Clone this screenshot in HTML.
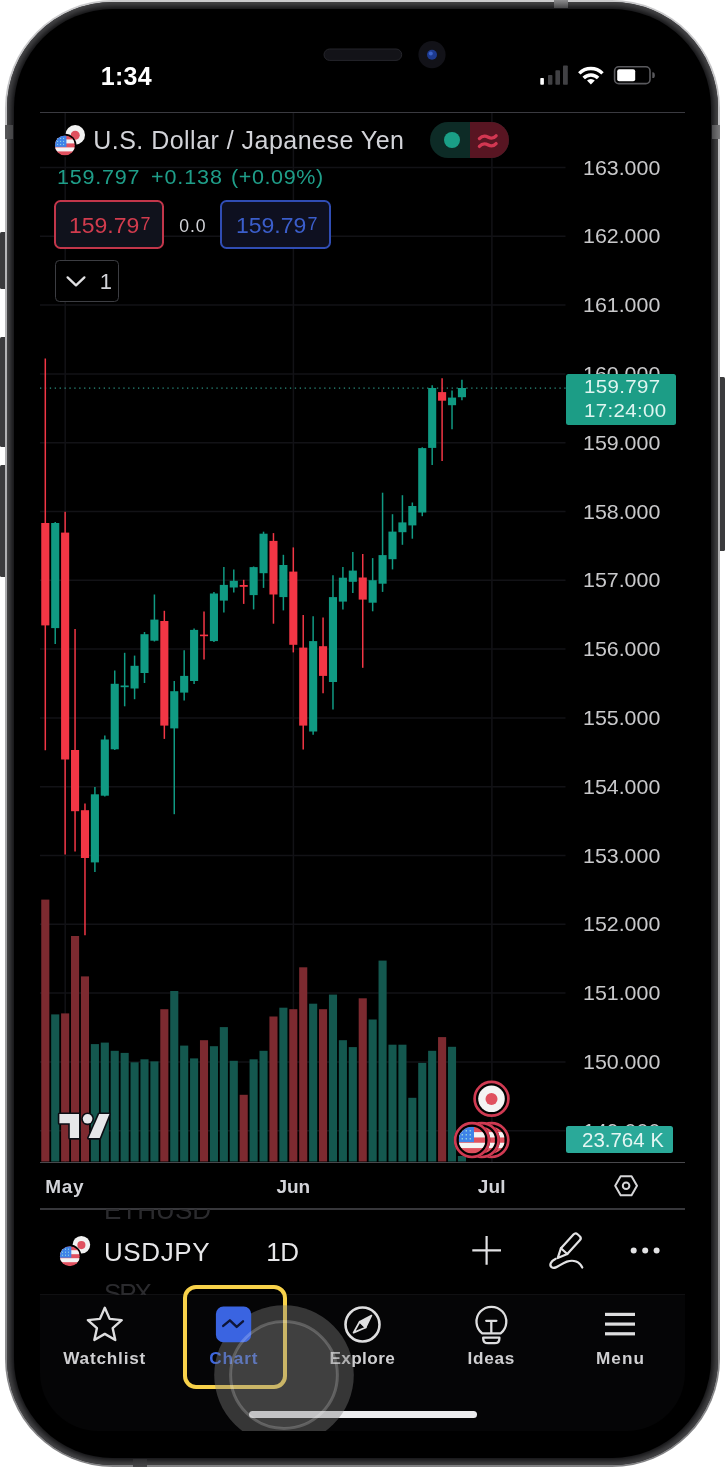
<!DOCTYPE html>
<html lang="en"><head><meta charset="utf-8"><title>USDJPY chart</title>
<style>
html,body{margin:0;padding:0;background:#fff;}
body{width:725px;height:1467px;overflow:hidden;position:relative;font-family:"Liberation Sans",sans-serif;}
.abs{position:absolute;}
.t{position:absolute;white-space:nowrap;line-height:1;}
.btn{position:absolute;background:#3b3b3d;border-radius:1.5px;}
.frame{position:absolute;left:4.9px;top:0;width:715.2px;height:1467px;border-radius:108px;background:linear-gradient(180deg,#cacacc 0%,#b6b6b8 18%,#a6a6a8 60%,#8e8e90 90%,#808082 100%);}
.bezel{position:absolute;left:2px;top:1.9px;right:2px;bottom:2px;border-radius:106px;background:#0e0e10;box-shadow:inset 0 0 6px 4px #4a4a4c;}
.glass{position:absolute;left:9.1px;top:8.8px;right:9.2px;bottom:8.9px;border-radius:99px;background:#000;}
.hl{position:absolute;background:#26262b;height:1.6px;}
.box{position:absolute;box-sizing:border-box;}
.clip{position:absolute;overflow:hidden;}
</style></head><body>
<div class="btn" style="left:0;top:232px;width:8px;height:57.2px;"></div>
<div class="btn" style="left:0;top:336.5px;width:8px;height:110.5px;"></div>
<div class="btn" style="left:0;top:465px;width:8px;height:112px;"></div>
<div class="btn" style="left:716px;top:376.5px;width:9px;height:174px;"></div>
<div class="frame"><div class="bezel"></div><div class="glass"></div></div>
<div class="abs" style="left:5px;top:125px;width:8.2px;height:14px;background:linear-gradient(90deg,#58585a,#444446);"></div>
<div class="abs" style="left:711.8px;top:125px;width:8.2px;height:13.8px;background:linear-gradient(90deg,#4c4c4e,#7c7c7e);"></div>
<div class="abs" style="left:554px;top:0;width:14px;height:8px;background:linear-gradient(180deg,#8c8c8e,#48484a);"></div>
<div class="abs" style="left:133px;top:1458.8px;width:14px;height:8.2px;background:linear-gradient(180deg,#2c2c2e,#48484a);"></div>
<div class="abs" id="nav" style="left:40px;top:1293.8px;width:645px;height:136.6px;background:#050506;border-top:1.2px solid #101012;border-radius:0 0 58px 58px;"></div>

<svg class="abs" style="left:0;top:0" width="725" height="1467" viewBox="0 0 725 1467">
<rect x="324" y="49" width="77.7" height="11.4" rx="5.7" fill="#131318" stroke="#25252b" stroke-width="1"/>
<circle cx="432" cy="54.7" r="13.6" fill="#121218"/><circle cx="432" cy="54.7" r="5" fill="#1d3a8f"/><circle cx="430.8" cy="53.4" r="2" fill="#3c63c8"/>
<rect x="540.3" y="78" width="3.6" height="6.8" rx="0.8" fill="#fff"/><rect x="548" y="75" width="4.4" height="9.8" rx="0.8" fill="#414144"/><rect x="555.4" y="70.3" width="4.6" height="14.5" rx="0.8" fill="#414144"/><rect x="563" y="65.5" width="4.8" height="19.3" rx="0.8" fill="#414144"/>
<g fill="none" stroke="#fff" stroke-width="3.4"><path d="M579.3,73.4A16.2,16.2 0 0 1 602.5,73.4"/><path d="M583.7,78.0A10,10 0 0 1 598.1,78.0"/></g><path d="M590.9,84.6L587.0,80.5A5.5,5.5 0 0 1 594.8,80.5Z" fill="#fff"/>
<rect x="614.6" y="66.8" width="35.4" height="16.8" rx="4.2" fill="none" stroke="#5a5a5e" stroke-width="1.6"/><rect x="617.2" y="69.2" width="18" height="12" rx="2" fill="#fff"/><path d="M652.3,72.3H652.8A2,2.9 0 0 1 652.8,78.1H652.3Z" fill="#5a5a5e"/>
</svg>
<div class="t" style="left:100.70px;top:63.84px;font-size:25px;color:#fff;letter-spacing:0.33px;font-weight:700;">1:34</div>
<div class="hl" style="left:40px;top:111.9px;width:645px;height:1.5px;background:#3a3a40;"></div>
<svg class="abs" style="left:0;top:0" width="725" height="1467" viewBox="0 0 725 1467">
<g stroke="#121216" stroke-width="1.5">
<line x1="40" x2="565.5" y1="167.5" y2="167.5"/>
<line x1="40" x2="565.5" y1="236.3" y2="236.3"/>
<line x1="40" x2="565.5" y1="305.1" y2="305.1"/>
<line x1="40" x2="565.5" y1="373.9" y2="373.9"/>
<line x1="40" x2="565.5" y1="442.7" y2="442.7"/>
<line x1="40" x2="565.5" y1="511.5" y2="511.5"/>
<line x1="40" x2="565.5" y1="580.3" y2="580.3"/>
<line x1="40" x2="565.5" y1="649.1" y2="649.1"/>
<line x1="40" x2="565.5" y1="717.9" y2="717.9"/>
<line x1="40" x2="565.5" y1="786.7" y2="786.7"/>
<line x1="40" x2="565.5" y1="855.5" y2="855.5"/>
<line x1="40" x2="565.5" y1="924.3" y2="924.3"/>
<line x1="40" x2="565.5" y1="993.1" y2="993.1"/>
<line x1="40" x2="565.5" y1="1061.9" y2="1061.9"/>
<line x1="40" x2="565.5" y1="1130.7" y2="1130.7"/>
<line x1="65.2" x2="65.2" y1="113" y2="1162"/>
<line x1="293.4" x2="293.4" y1="113" y2="1162"/>
<line x1="491.9" x2="491.9" y1="113" y2="1162"/>
</g>
<rect x="41.25" y="899.6" width="8.1" height="261.9" fill="#7d2a30"/>
<rect x="51.17" y="1014.4" width="8.1" height="147.1" fill="#14584f"/>
<rect x="61.09" y="1013.4" width="8.1" height="148.1" fill="#7d2a30"/>
<rect x="71.01" y="936.0" width="8.1" height="225.5" fill="#7d2a30"/>
<rect x="80.93" y="976.4" width="8.1" height="185.1" fill="#7d2a30"/>
<rect x="90.85" y="1044.1" width="8.1" height="117.4" fill="#14584f"/>
<rect x="100.77" y="1042.6" width="8.1" height="118.9" fill="#14584f"/>
<rect x="110.69" y="1050.8" width="8.1" height="110.7" fill="#14584f"/>
<rect x="120.61" y="1052.9" width="8.1" height="108.6" fill="#14584f"/>
<rect x="130.53" y="1062.3" width="8.1" height="99.2" fill="#14584f"/>
<rect x="140.45" y="1059.3" width="8.1" height="102.2" fill="#14584f"/>
<rect x="150.37" y="1061.4" width="8.1" height="100.1" fill="#14584f"/>
<rect x="160.29" y="1009.2" width="8.1" height="152.3" fill="#7d2a30"/>
<rect x="170.21" y="991.0" width="8.1" height="170.5" fill="#14584f"/>
<rect x="180.13" y="1045.6" width="8.1" height="115.9" fill="#14584f"/>
<rect x="190.05" y="1058.4" width="8.1" height="103.1" fill="#14584f"/>
<rect x="199.97" y="1040.2" width="8.1" height="121.3" fill="#7d2a30"/>
<rect x="209.89" y="1046.2" width="8.1" height="115.3" fill="#14584f"/>
<rect x="219.81" y="1027.1" width="8.1" height="134.4" fill="#14584f"/>
<rect x="229.73" y="1060.8" width="8.1" height="100.7" fill="#14584f"/>
<rect x="239.65" y="1094.8" width="8.1" height="66.7" fill="#7d2a30"/>
<rect x="249.57" y="1059.3" width="8.1" height="102.2" fill="#14584f"/>
<rect x="259.49" y="1050.8" width="8.1" height="110.7" fill="#14584f"/>
<rect x="269.41" y="1016.5" width="8.1" height="145.0" fill="#7d2a30"/>
<rect x="279.33" y="1007.7" width="8.1" height="153.8" fill="#14584f"/>
<rect x="289.25" y="1009.2" width="8.1" height="152.3" fill="#7d2a30"/>
<rect x="299.17" y="967.3" width="8.1" height="194.2" fill="#7d2a30"/>
<rect x="309.09" y="1003.7" width="8.1" height="157.8" fill="#14584f"/>
<rect x="319.01" y="1009.2" width="8.1" height="152.3" fill="#7d2a30"/>
<rect x="328.93" y="994.6" width="8.1" height="166.9" fill="#14584f"/>
<rect x="338.85" y="1040.2" width="8.1" height="121.3" fill="#14584f"/>
<rect x="348.77" y="1047.1" width="8.1" height="114.4" fill="#14584f"/>
<rect x="358.69" y="998.3" width="8.1" height="163.2" fill="#7d2a30"/>
<rect x="368.61" y="1019.5" width="8.1" height="142.0" fill="#14584f"/>
<rect x="378.53" y="960.6" width="8.1" height="200.9" fill="#14584f"/>
<rect x="388.45" y="1044.7" width="8.1" height="116.8" fill="#14584f"/>
<rect x="398.37" y="1044.7" width="8.1" height="116.8" fill="#14584f"/>
<rect x="408.29" y="1097.8" width="8.1" height="63.7" fill="#14584f"/>
<rect x="418.21" y="1062.9" width="8.1" height="98.6" fill="#14584f"/>
<rect x="428.13" y="1050.8" width="8.1" height="110.7" fill="#14584f"/>
<rect x="438.05" y="1037.1" width="8.1" height="124.4" fill="#7d2a30"/>
<rect x="447.97" y="1046.8" width="8.1" height="114.7" fill="#14584f"/>
<rect x="457.89" y="1156.0" width="8.1" height="5.5" fill="#14584f"/>
<line x1="40" x2="566" y1="388" y2="388" stroke="#2b8f7f" stroke-width="1.25" stroke-dasharray="1.3 3.6"/>
<line x1="45.30" x2="45.30" y1="358.4" y2="750.3" stroke="#f23645" stroke-width="1.5"/>
<rect x="41.25" y="523" width="8.1" height="102.4" fill="#f23645"/>
<line x1="55.22" x2="55.22" y1="522" y2="644" stroke="#109a83" stroke-width="1.5"/>
<rect x="51.17" y="523" width="8.1" height="105.1" fill="#109a83"/>
<line x1="65.14" x2="65.14" y1="511.8" y2="854.6" stroke="#f23645" stroke-width="1.5"/>
<rect x="61.09" y="532.6" width="8.1" height="226.9" fill="#f23645"/>
<line x1="75.06" x2="75.06" y1="629" y2="851.5" stroke="#f23645" stroke-width="1.5"/>
<rect x="71.01" y="750" width="8.1" height="61.2" fill="#f23645"/>
<line x1="84.98" x2="84.98" y1="803.5" y2="935.2" stroke="#f23645" stroke-width="1.5"/>
<rect x="80.93" y="810.2" width="8.1" height="47.8" fill="#f23645"/>
<line x1="94.90" x2="94.90" y1="787" y2="872" stroke="#109a83" stroke-width="1.5"/>
<rect x="90.85" y="794.3" width="8.1" height="68.1" fill="#109a83"/>
<line x1="104.82" x2="104.82" y1="735.4" y2="796.5" stroke="#109a83" stroke-width="1.5"/>
<rect x="100.77" y="739.5" width="8.1" height="56.2" fill="#109a83"/>
<line x1="114.74" x2="114.74" y1="670.5" y2="750" stroke="#109a83" stroke-width="1.5"/>
<rect x="110.69" y="683.8" width="8.1" height="65.5" fill="#109a83"/>
<line x1="124.66" x2="124.66" y1="652.8" y2="706.3" stroke="#109a83" stroke-width="1.5"/>
<rect x="120.61" y="685.5" width="8.1" height="1.7" fill="#109a83"/>
<line x1="134.58" x2="134.58" y1="655.6" y2="699.2" stroke="#109a83" stroke-width="1.5"/>
<rect x="130.53" y="665.8" width="8.1" height="22.7" fill="#109a83"/>
<line x1="144.50" x2="144.50" y1="632" y2="683" stroke="#109a83" stroke-width="1.5"/>
<rect x="140.45" y="634.2" width="8.1" height="38.8" fill="#109a83"/>
<line x1="154.42" x2="154.42" y1="594.5" y2="641.5" stroke="#109a83" stroke-width="1.5"/>
<rect x="150.37" y="619.6" width="8.1" height="21.1" fill="#109a83"/>
<line x1="164.34" x2="164.34" y1="610.8" y2="738.9" stroke="#f23645" stroke-width="1.5"/>
<rect x="160.29" y="621" width="8.1" height="104.6" fill="#f23645"/>
<line x1="174.26" x2="174.26" y1="681" y2="814.2" stroke="#109a83" stroke-width="1.5"/>
<rect x="170.21" y="691.2" width="8.1" height="37.2" fill="#109a83"/>
<line x1="184.18" x2="184.18" y1="650.3" y2="700.4" stroke="#109a83" stroke-width="1.5"/>
<rect x="180.13" y="675.9" width="8.1" height="16.7" fill="#109a83"/>
<line x1="194.10" x2="194.10" y1="628.4" y2="684" stroke="#109a83" stroke-width="1.5"/>
<rect x="190.05" y="629.9" width="8.1" height="51.1" fill="#109a83"/>
<line x1="204.02" x2="204.02" y1="611.5" y2="659.5" stroke="#f23645" stroke-width="1.5"/>
<rect x="199.97" y="634.6" width="8.1" height="1.6" fill="#f23645"/>
<line x1="213.94" x2="213.94" y1="592" y2="642" stroke="#109a83" stroke-width="1.5"/>
<rect x="209.89" y="593.5" width="8.1" height="47.6" fill="#109a83"/>
<line x1="223.86" x2="223.86" y1="567" y2="612.5" stroke="#109a83" stroke-width="1.5"/>
<rect x="219.81" y="584.9" width="8.1" height="15.7" fill="#109a83"/>
<line x1="233.78" x2="233.78" y1="569.5" y2="592.4" stroke="#109a83" stroke-width="1.5"/>
<rect x="229.73" y="580.8" width="8.1" height="6.7" fill="#109a83"/>
<line x1="243.70" x2="243.70" y1="579.8" y2="603.9" stroke="#f23645" stroke-width="1.5"/>
<rect x="239.65" y="585" width="8.1" height="1.8" fill="#f23645"/>
<line x1="253.62" x2="253.62" y1="566.5" y2="609.4" stroke="#109a83" stroke-width="1.5"/>
<rect x="249.57" y="567.1" width="8.1" height="28.0" fill="#109a83"/>
<line x1="263.54" x2="263.54" y1="531.7" y2="587.9" stroke="#109a83" stroke-width="1.5"/>
<rect x="259.49" y="533.7" width="8.1" height="39.5" fill="#109a83"/>
<line x1="273.46" x2="273.46" y1="533.1" y2="623.7" stroke="#f23645" stroke-width="1.5"/>
<rect x="269.41" y="540.9" width="8.1" height="53.6" fill="#f23645"/>
<line x1="283.38" x2="283.38" y1="554.8" y2="610.4" stroke="#109a83" stroke-width="1.5"/>
<rect x="279.33" y="565" width="8.1" height="32.1" fill="#109a83"/>
<line x1="293.30" x2="293.30" y1="547.4" y2="652.4" stroke="#f23645" stroke-width="1.5"/>
<rect x="289.25" y="571.6" width="8.1" height="73.2" fill="#f23645"/>
<line x1="303.22" x2="303.22" y1="614.9" y2="749.5" stroke="#f23645" stroke-width="1.5"/>
<rect x="299.17" y="647.6" width="8.1" height="78.0" fill="#f23645"/>
<line x1="313.14" x2="313.14" y1="616.2" y2="734.8" stroke="#109a83" stroke-width="1.5"/>
<rect x="309.09" y="641.1" width="8.1" height="90.4" fill="#109a83"/>
<line x1="323.06" x2="323.06" y1="617.6" y2="693.3" stroke="#f23645" stroke-width="1.5"/>
<rect x="319.01" y="646.2" width="8.1" height="29.7" fill="#f23645"/>
<line x1="332.98" x2="332.98" y1="575.3" y2="709.6" stroke="#109a83" stroke-width="1.5"/>
<rect x="328.93" y="597.1" width="8.1" height="84.9" fill="#109a83"/>
<line x1="342.90" x2="342.90" y1="567.1" y2="609.4" stroke="#109a83" stroke-width="1.5"/>
<rect x="338.85" y="577.7" width="8.1" height="23.9" fill="#109a83"/>
<line x1="352.82" x2="352.82" y1="552.1" y2="593" stroke="#109a83" stroke-width="1.5"/>
<rect x="348.77" y="570.6" width="8.1" height="11.2" fill="#109a83"/>
<line x1="362.74" x2="362.74" y1="554" y2="667.8" stroke="#f23645" stroke-width="1.5"/>
<rect x="358.69" y="577.5" width="8.1" height="22.1" fill="#f23645"/>
<line x1="372.66" x2="372.66" y1="558.1" y2="611.3" stroke="#109a83" stroke-width="1.5"/>
<rect x="368.61" y="580.2" width="8.1" height="22.5" fill="#109a83"/>
<line x1="382.58" x2="382.58" y1="492.7" y2="591.9" stroke="#109a83" stroke-width="1.5"/>
<rect x="378.53" y="555.1" width="8.1" height="28.6" fill="#109a83"/>
<line x1="392.50" x2="392.50" y1="514.2" y2="569.4" stroke="#109a83" stroke-width="1.5"/>
<rect x="388.45" y="531.6" width="8.1" height="27.6" fill="#109a83"/>
<line x1="402.42" x2="402.42" y1="495.2" y2="544.8" stroke="#109a83" stroke-width="1.5"/>
<rect x="398.37" y="522.4" width="8.1" height="9.8" fill="#109a83"/>
<line x1="412.34" x2="412.34" y1="502.5" y2="538.7" stroke="#109a83" stroke-width="1.5"/>
<rect x="408.29" y="506" width="8.1" height="19.4" fill="#109a83"/>
<line x1="422.26" x2="422.26" y1="447.3" y2="516.2" stroke="#109a83" stroke-width="1.5"/>
<rect x="418.21" y="448.1" width="8.1" height="64.4" fill="#109a83"/>
<line x1="432.18" x2="432.18" y1="385.3" y2="465.1" stroke="#109a83" stroke-width="1.5"/>
<rect x="428.13" y="388" width="8.1" height="59.9" fill="#109a83"/>
<line x1="442.10" x2="442.10" y1="378.2" y2="461" stroke="#f23645" stroke-width="1.5"/>
<rect x="438.05" y="392.1" width="8.1" height="8.6" fill="#f23645"/>
<line x1="452.02" x2="452.02" y1="390.4" y2="429.3" stroke="#109a83" stroke-width="1.5"/>
<rect x="447.97" y="397.6" width="8.1" height="7.6" fill="#109a83"/>
<line x1="461.94" x2="461.94" y1="379.8" y2="400.3" stroke="#109a83" stroke-width="1.5"/>
<rect x="457.89" y="388" width="8.1" height="9.2" fill="#109a83"/>
</svg>
<div class="t" style="left:93.20px;top:127.54px;font-size:25px;color:#d2d3d8;letter-spacing:0.48px;">U.S. Dollar / Japanese Yen</div>
<div class="box" style="left:429.9px;top:121.8px;width:79.2px;height:36.4px;border-radius:18.2px;overflow:hidden;background:#0d2b26;"><div class="abs" style="left:39.7px;top:0;width:40px;height:36.4px;background:#581522;"></div><div class="abs" style="left:14.4px;top:10.3px;width:15.8px;height:15.8px;border-radius:50%;background:#1a9e86;"></div><svg class="abs" style="left:0;top:0" width="80" height="37" viewBox="429.9 121.8 80 37"><g fill="none" stroke="#d23752" stroke-width="3.3" stroke-linecap="round"><path d="M479.3,138.4C482.6,134.8 485.6,135.6 488.2,137C491,138.5 493.4,138.4 496,135.6"/><path d="M479.3,146.2C482.6,142.6 485.6,143.4 488.2,144.8C491,146.3 493.4,146.2 496,143.4"/></g></svg></div>
<div class="t" style="left:56.60px;top:168.01px;font-size:19.6px;color:#1f9e89;letter-spacing:0.70px;transform:scaleX(1.1000);transform-origin:0 0;">159.797</div>
<div class="t" style="left:150.90px;top:168.01px;font-size:19.6px;color:#1f9e89;letter-spacing:0.80px;transform:scaleX(1.1000);transform-origin:0 0;">+0.138</div>
<div class="t" style="left:231.20px;top:168.01px;font-size:19.6px;color:#1f9e89;letter-spacing:0.53px;transform:scaleX(1.1000);transform-origin:0 0;">(+0.09%)</div>
<div class="box" style="left:53.7px;top:199.8px;width:110.7px;height:49.4px;border:2px solid #c2364a;border-radius:6.5px;background:#10121c;"></div>
<div class="t" style="left:69.00px;top:214.72px;font-size:21.6px;color:#d23c4e;transform:scaleX(1.0647);transform-origin:0 0;">159.79</div>
<div class="t" style="left:140.60px;top:215.36px;font-size:18px;color:#d23c4e;">7</div>
<div class="t" style="left:179.30px;top:217.50px;font-size:17.6px;color:#d2d3d8;letter-spacing:0.85px;">0.0</div>
<div class="box" style="left:219.8px;top:199.8px;width:111.1px;height:49.4px;border:2px solid #304db4;border-radius:6.5px;background:#0e1020;"></div>
<div class="t" style="left:235.60px;top:214.72px;font-size:21.6px;color:#3b5ecb;transform:scaleX(1.0647);transform-origin:0 0;">159.79</div>
<div class="t" style="left:307.60px;top:215.36px;font-size:18px;color:#3b5ecb;">7</div>
<div class="box" style="left:55.3px;top:260.3px;width:63.4px;height:41.4px;border:1.3px solid #3c3d42;border-radius:4.5px;background:#000;"></div>
<svg class="abs" style="left:60px;top:270px" width="30" height="24" viewBox="60 270 30 24"><path d="M67.6,277.4L76,285.4L84.4,277.4" fill="none" stroke="#e0e0e2" stroke-width="2.3" stroke-linecap="round" stroke-linejoin="round"/></svg>
<div class="t" style="left:99.80px;top:270.88px;font-size:22px;color:#d2d3d8;">1</div>
<div class="clip" style="left:560px;top:113px;width:124px;height:1049px;">
<div class="t" style="left:23.20px;top:44.65px;font-size:20.2px;color:#c9c9cb;transform:scaleX(1.0594);transform-origin:0 0;">163.000</div>
<div class="t" style="left:23.20px;top:113.45px;font-size:20.2px;color:#c9c9cb;transform:scaleX(1.0594);transform-origin:0 0;">162.000</div>
<div class="t" style="left:23.20px;top:182.25px;font-size:20.2px;color:#c9c9cb;transform:scaleX(1.0594);transform-origin:0 0;">161.000</div>
<div class="t" style="left:23.20px;top:251.05px;font-size:20.2px;color:#c9c9cb;transform:scaleX(1.0594);transform-origin:0 0;">160.000</div>
<div class="t" style="left:23.20px;top:319.85px;font-size:20.2px;color:#c9c9cb;transform:scaleX(1.0594);transform-origin:0 0;">159.000</div>
<div class="t" style="left:23.20px;top:388.65px;font-size:20.2px;color:#c9c9cb;transform:scaleX(1.0594);transform-origin:0 0;">158.000</div>
<div class="t" style="left:23.20px;top:457.45px;font-size:20.2px;color:#c9c9cb;transform:scaleX(1.0594);transform-origin:0 0;">157.000</div>
<div class="t" style="left:23.20px;top:526.25px;font-size:20.2px;color:#c9c9cb;transform:scaleX(1.0594);transform-origin:0 0;">156.000</div>
<div class="t" style="left:23.20px;top:595.05px;font-size:20.2px;color:#c9c9cb;transform:scaleX(1.0594);transform-origin:0 0;">155.000</div>
<div class="t" style="left:23.20px;top:663.85px;font-size:20.2px;color:#c9c9cb;transform:scaleX(1.0594);transform-origin:0 0;">154.000</div>
<div class="t" style="left:23.20px;top:732.65px;font-size:20.2px;color:#c9c9cb;transform:scaleX(1.0594);transform-origin:0 0;">153.000</div>
<div class="t" style="left:23.20px;top:801.45px;font-size:20.2px;color:#c9c9cb;transform:scaleX(1.0594);transform-origin:0 0;">152.000</div>
<div class="t" style="left:23.20px;top:870.25px;font-size:20.2px;color:#c9c9cb;transform:scaleX(1.0594);transform-origin:0 0;">151.000</div>
<div class="t" style="left:23.20px;top:939.05px;font-size:20.2px;color:#c9c9cb;transform:scaleX(1.0594);transform-origin:0 0;">150.000</div>
<div class="t" style="left:23.20px;top:1007.85px;font-size:20.2px;color:#c9c9cb;transform:scaleX(1.0594);transform-origin:0 0;">149.000</div>
</div>
<div class="box" style="left:565.8px;top:373.8px;width:110.6px;height:51.2px;border-radius:2.5px;background:#1c9d86;"></div>
<div class="t" style="left:584.00px;top:378.46px;font-size:18.6px;color:#dff5f0;letter-spacing:0.33px;transform:scaleX(1.1000);transform-origin:0 0;">159.797</div>
<div class="t" style="left:584.00px;top:401.66px;font-size:18.6px;color:#dff5f0;letter-spacing:0.33px;transform:scaleX(1.1000);transform-origin:0 0;">17:24:00</div>
<div class="box" style="left:565.5px;top:1125.6px;width:107.6px;height:27.8px;border-radius:2.5px;background:#2aa999;"></div>
<div class="t" style="left:582.40px;top:1130.07px;font-size:20px;color:#e4f6f3;transform:scaleX(1.0241);transform-origin:0 0;">23.764</div>
<div class="t" style="left:650.60px;top:1130.07px;font-size:20px;color:#e4f6f3;">K</div>
<div class="hl" style="left:40px;top:1161.7px;width:645px;height:1.4px;background:#48484c;"></div>
<div class="t" style="left:45.20px;top:1177.32px;font-size:19px;color:#d2d3d8;letter-spacing:0.70px;font-weight:700;">May</div>
<div class="t" style="left:276.40px;top:1177.32px;font-size:19px;color:#d2d3d8;letter-spacing:-0.07px;font-weight:700;">Jun</div>
<div class="t" style="left:477.70px;top:1177.32px;font-size:19px;color:#d2d3d8;letter-spacing:0.20px;font-weight:700;">Jul</div>
<div class="hl" style="left:40px;top:1207.5px;width:645px;height:2px;background:#37373b;"></div>
<div class="clip" style="left:40px;top:1209.2px;width:644px;height:85.6px;">
<div class="t" style="left:64.00px;top:-12.21px;font-size:26px;color:#2b2b2e;letter-spacing:0.03px;">ETHUSD</div>
<div class="t" style="left:64.00px;top:29.99px;font-size:26px;color:#e6e6e8;letter-spacing:0.59px;">USDJPY</div>
<div class="t" style="left:226.20px;top:29.99px;font-size:26px;color:#e6e6e8;letter-spacing:-0.3px;">1D</div>
<div class="t" style="left:64.00px;top:70.99px;font-size:26px;color:#2b2b2e;letter-spacing:-2.15px;">SPX</div>
</div>
<div class="t" style="left:63.20px;top:1350.44px;font-size:17.2px;color:#cfcfd1;letter-spacing:0.79px;font-weight:700;">Watchlist</div>
<div class="t" style="left:209.20px;top:1350.44px;font-size:17.2px;color:#3d66dd;letter-spacing:0.88px;font-weight:700;">Chart</div>
<div class="t" style="left:329.40px;top:1350.44px;font-size:17.2px;color:#cfcfd1;letter-spacing:0.39px;font-weight:700;">Explore</div>
<div class="t" style="left:467.60px;top:1350.44px;font-size:17.2px;color:#cfcfd1;letter-spacing:0.72px;font-weight:700;">Ideas</div>
<div class="t" style="left:596.00px;top:1350.44px;font-size:17.2px;color:#cfcfd1;letter-spacing:1.00px;font-weight:700;">Menu</div>
<div class="abs" style="left:248.5px;top:1411px;width:228.5px;height:7px;border-radius:3.5px;background:#ececee;"></div>
<div class="box" style="left:183.2px;top:1285px;width:103.6px;height:104.2px;border:4.3px solid #f8d24a;border-radius:13px;"></div>
<svg class="abs" style="left:0;top:0" width="725" height="1467" viewBox="0 0 725 1467">
<circle cx="75.2" cy="134.9" r="9.8" fill="#f2f2f2"/><circle cx="75.2" cy="135.3" r="4.51" fill="#e0515f"/><circle cx="64.9" cy="145.4" r="11.6" fill="#000"/><g><clipPath id="u1"><circle cx="64.9" cy="145.4" r="10.0"/></clipPath><g clip-path="url(#u1)"><rect x="54.900000000000006" y="135.4" width="20.0" height="20.0" fill="#e0515f"/><rect x="54.900000000000006" y="139.40" width="20.0" height="4.00" fill="#f4f4f4"/><rect x="54.900000000000006" y="147.40" width="20.0" height="4.00" fill="#f4f4f4"/><rect x="54.900000000000006" y="135.4" width="11.50" height="11.50" fill="#3f83e8"/><rect x="57.10" y="137.90" width="1.00" height="1.00" fill="#9fe0e0"/><rect x="57.10" y="140.90" width="1.00" height="1.00" fill="#9fe0e0"/><rect x="57.10" y="143.90" width="1.00" height="1.00" fill="#9fe0e0"/><rect x="60.10" y="137.90" width="1.00" height="1.00" fill="#9fe0e0"/><rect x="60.10" y="140.90" width="1.00" height="1.00" fill="#9fe0e0"/><rect x="60.10" y="143.90" width="1.00" height="1.00" fill="#9fe0e0"/><rect x="63.10" y="137.90" width="1.00" height="1.00" fill="#9fe0e0"/><rect x="63.10" y="140.90" width="1.00" height="1.00" fill="#9fe0e0"/><rect x="63.10" y="143.90" width="1.00" height="1.00" fill="#9fe0e0"/></g></g>
<circle cx="81.4" cy="1244.7" r="8.8" fill="#f2f2f2"/><circle cx="81.4" cy="1245.1000000000001" r="4.05" fill="#e0515f"/><circle cx="69.8" cy="1256.2" r="11.6" fill="#000"/><g><clipPath id="u2"><circle cx="69.8" cy="1256.2" r="10.0"/></clipPath><g clip-path="url(#u2)"><rect x="59.8" y="1246.2" width="20.0" height="20.0" fill="#e0515f"/><rect x="59.8" y="1250.20" width="20.0" height="4.00" fill="#f4f4f4"/><rect x="59.8" y="1258.20" width="20.0" height="4.00" fill="#f4f4f4"/><rect x="59.8" y="1246.2" width="11.50" height="11.50" fill="#3f83e8"/><rect x="62.00" y="1248.70" width="1.00" height="1.00" fill="#9fe0e0"/><rect x="62.00" y="1251.70" width="1.00" height="1.00" fill="#9fe0e0"/><rect x="62.00" y="1254.70" width="1.00" height="1.00" fill="#9fe0e0"/><rect x="65.00" y="1248.70" width="1.00" height="1.00" fill="#9fe0e0"/><rect x="65.00" y="1251.70" width="1.00" height="1.00" fill="#9fe0e0"/><rect x="65.00" y="1254.70" width="1.00" height="1.00" fill="#9fe0e0"/><rect x="68.00" y="1248.70" width="1.00" height="1.00" fill="#9fe0e0"/><rect x="68.00" y="1251.70" width="1.00" height="1.00" fill="#9fe0e0"/><rect x="68.00" y="1254.70" width="1.00" height="1.00" fill="#9fe0e0"/></g></g>
<g stroke="#0b0d14" stroke-width="3.2" stroke-linejoin="round" fill="#e6e6e9"><path d="M59.4,1114H79V1138.1H69.8V1123.2H59.4Z"/><circle cx="87.6" cy="1118.8" r="4.8"/><path d="M99.2,1114H109.4L99.7,1138.1H88.6Z"/></g><g fill="#e6e6e9"><path d="M59.4,1114H79V1138.1H69.8V1123.2H59.4Z"/><circle cx="87.6" cy="1118.8" r="4.8"/><path d="M99.2,1114H109.4L99.7,1138.1H88.6Z"/></g>
<circle cx="491.4" cy="1140.1" r="18.2" fill="#000"/><circle cx="491.4" cy="1140.1" r="16.9" fill="none" stroke="#d03a52" stroke-width="2.7"/>
<circle cx="491.4" cy="1140.1" r="14.6" fill="#000"/>
<g><clipPath id="e0"><circle cx="491.4" cy="1140.1" r="13.3"/></clipPath><g clip-path="url(#e0)"><rect x="478.09999999999997" y="1126.8" width="26.6" height="26.6" fill="#e0515f"/><rect x="478.09999999999997" y="1132.12" width="26.6" height="5.32" fill="#f4f4f4"/><rect x="478.09999999999997" y="1142.76" width="26.6" height="5.32" fill="#f4f4f4"/><rect x="478.09999999999997" y="1126.8" width="15.29" height="15.29" fill="#3f83e8"/><rect x="481.03" y="1130.12" width="1.33" height="1.33" fill="#9fe0e0"/><rect x="481.03" y="1134.12" width="1.33" height="1.33" fill="#9fe0e0"/><rect x="481.03" y="1138.11" width="1.33" height="1.33" fill="#9fe0e0"/><rect x="485.02" y="1130.12" width="1.33" height="1.33" fill="#9fe0e0"/><rect x="485.02" y="1134.12" width="1.33" height="1.33" fill="#9fe0e0"/><rect x="485.02" y="1138.11" width="1.33" height="1.33" fill="#9fe0e0"/><rect x="489.01" y="1130.12" width="1.33" height="1.33" fill="#9fe0e0"/><rect x="489.01" y="1134.12" width="1.33" height="1.33" fill="#9fe0e0"/><rect x="489.01" y="1138.11" width="1.33" height="1.33" fill="#9fe0e0"/></g></g>
<circle cx="481.7" cy="1140.1" r="18.2" fill="#000"/><circle cx="481.7" cy="1140.1" r="16.9" fill="none" stroke="#d03a52" stroke-width="2.7"/>
<circle cx="481.7" cy="1140.1" r="14.6" fill="#000"/>
<g><clipPath id="e1"><circle cx="481.7" cy="1140.1" r="13.3"/></clipPath><g clip-path="url(#e1)"><rect x="468.4" y="1126.8" width="26.6" height="26.6" fill="#e0515f"/><rect x="468.4" y="1132.12" width="26.6" height="5.32" fill="#f4f4f4"/><rect x="468.4" y="1142.76" width="26.6" height="5.32" fill="#f4f4f4"/><rect x="468.4" y="1126.8" width="15.29" height="15.29" fill="#3f83e8"/><rect x="471.33" y="1130.12" width="1.33" height="1.33" fill="#9fe0e0"/><rect x="471.33" y="1134.12" width="1.33" height="1.33" fill="#9fe0e0"/><rect x="471.33" y="1138.11" width="1.33" height="1.33" fill="#9fe0e0"/><rect x="475.32" y="1130.12" width="1.33" height="1.33" fill="#9fe0e0"/><rect x="475.32" y="1134.12" width="1.33" height="1.33" fill="#9fe0e0"/><rect x="475.32" y="1138.11" width="1.33" height="1.33" fill="#9fe0e0"/><rect x="479.31" y="1130.12" width="1.33" height="1.33" fill="#9fe0e0"/><rect x="479.31" y="1134.12" width="1.33" height="1.33" fill="#9fe0e0"/><rect x="479.31" y="1138.11" width="1.33" height="1.33" fill="#9fe0e0"/></g></g>
<circle cx="472.0" cy="1140.1" r="18.2" fill="#000"/><circle cx="472.0" cy="1140.1" r="16.9" fill="none" stroke="#d03a52" stroke-width="2.7"/>
<circle cx="472.0" cy="1140.1" r="14.6" fill="#000"/>
<g><clipPath id="e2"><circle cx="472.0" cy="1140.1" r="13.3"/></clipPath><g clip-path="url(#e2)"><rect x="458.7" y="1126.8" width="26.6" height="26.6" fill="#e0515f"/><rect x="458.7" y="1132.12" width="26.6" height="5.32" fill="#f4f4f4"/><rect x="458.7" y="1142.76" width="26.6" height="5.32" fill="#f4f4f4"/><rect x="458.7" y="1126.8" width="15.29" height="15.29" fill="#3f83e8"/><rect x="461.63" y="1130.12" width="1.33" height="1.33" fill="#9fe0e0"/><rect x="461.63" y="1134.12" width="1.33" height="1.33" fill="#9fe0e0"/><rect x="461.63" y="1138.11" width="1.33" height="1.33" fill="#9fe0e0"/><rect x="465.62" y="1130.12" width="1.33" height="1.33" fill="#9fe0e0"/><rect x="465.62" y="1134.12" width="1.33" height="1.33" fill="#9fe0e0"/><rect x="465.62" y="1138.11" width="1.33" height="1.33" fill="#9fe0e0"/><rect x="469.61" y="1130.12" width="1.33" height="1.33" fill="#9fe0e0"/><rect x="469.61" y="1134.12" width="1.33" height="1.33" fill="#9fe0e0"/><rect x="469.61" y="1138.11" width="1.33" height="1.33" fill="#9fe0e0"/></g></g>
<circle cx="491.5" cy="1098.8" r="16.9" fill="#000" stroke="#d03a52" stroke-width="2.7"/><circle cx="491.5" cy="1098.8" r="13.3" fill="#f4f4f4"/><circle cx="491.5" cy="1099" r="6" fill="#e0515f"/>
<polygon points="637.00,1185.70 631.55,1195.14 620.65,1195.14 615.20,1185.70 620.65,1176.26 631.55,1176.26" fill="none" stroke="#d6d6d8" stroke-width="2" stroke-linejoin="round"/><circle cx="626.1" cy="1185.7" r="3.3" fill="none" stroke="#d6d6d8" stroke-width="2"/>
<path d="M472.3,1250.4H501M486.6,1236V1264.8" stroke="#e2e2e4" stroke-width="2.2" fill="none"/>
<g stroke="#e2e2e4" stroke-width="2.2" fill="none" stroke-linecap="round" stroke-linejoin="round"><g transform="translate(557.7,1258.1) rotate(-47.5)"><path d="M0,0L9.5,-4.3H28Q31,-4.3 31,-1.5V1.5Q31,4.3 28,4.3H9.5Z"/><path d="M9.5,-4.3L9.5,4.3"/></g><path d="M555.8,1258.8C551,1261 548.8,1265 551.6,1267.2C555.5,1270 560,1264 566.9,1261.6C574,1259.2 579.5,1262 582.3,1267.6"/></g>
<circle cx="633.7" cy="1250.4" r="3" fill="#e2e2e4"/>
<circle cx="645.2" cy="1250.4" r="3" fill="#e2e2e4"/>
<circle cx="656.6" cy="1250.4" r="3" fill="#e2e2e4"/>
<polygon points="104.80,1307.80 109.68,1318.89 121.73,1320.10 112.69,1328.16 115.26,1340.00 104.80,1333.90 94.34,1340.00 96.91,1328.16 87.87,1320.10 99.92,1318.89" fill="none" stroke="#dededf" stroke-width="2.4" stroke-linejoin="round"/>
<clipPath id="scr0"><rect x="40" y="37" width="644" height="1394" rx="58"/></clipPath><circle cx="284" cy="1375" r="69.8" fill="rgba(128,128,128,0.4)" clip-path="url(#scr0)"/>
<rect x="215.9" y="1306.6" width="35.3" height="35.6" rx="7.5" fill="#3a64e1"/><path d="M223.2,1325.9L229.9,1320.3L236.7,1326.9L243,1321.3" stroke="#0e1538" stroke-width="2.4" fill="none" stroke-linejoin="round" stroke-linecap="round"/>
<circle cx="362.5" cy="1324.5" r="17" fill="none" stroke="#dededf" stroke-width="2.6"/><path d="M371.5,1315.5L359.7,1321.7L365.7,1327.5Z" fill="#dededf" stroke="#dededf" stroke-width="1.6" stroke-linejoin="round"/><path d="M353.6,1332.6L359.7,1321.7L365.7,1327.5Z" fill="none" stroke="#dededf" stroke-width="1.8" stroke-linejoin="round"/>
<g fill="none" stroke="#dededf" stroke-width="2.3" stroke-linecap="round" stroke-linejoin="round"><path d="M482.2,1333.4A14.9,14.9 0 1 1 500.6,1333.4Z"/><path d="M486.2,1320.8H496.4M491.3,1320.8V1332.6"/><path d="M483.2,1337.6H499.4V1338.4Q499.4,1343.2 494.6,1343.2H488Q483.2,1343.2 483.2,1338.4Z"/></g>
<rect x="605" y="1312.8" width="30" height="3.2" fill="#dededf"/>
<rect x="605" y="1322.5" width="30" height="3.2" fill="#dededf"/>
<rect x="605" y="1332.2" width="30" height="3.2" fill="#dededf"/>
<clipPath id="scr"><rect x="40" y="37" width="644" height="1394" rx="58"/></clipPath><g clip-path="url(#scr)"><circle cx="284" cy="1375" r="53.4" fill="rgba(255,255,255,0.05)" stroke="rgba(255,255,255,0.2)" stroke-width="3"/></g>
</svg>
</body></html>
